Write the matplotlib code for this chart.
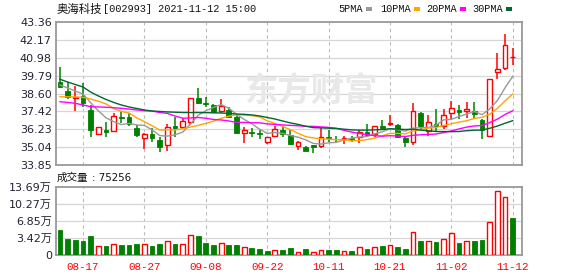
import matplotlib
matplotlib.use('Agg')
import matplotlib.pyplot as plt
import numpy as np

# ---------------- data ----------------
dates = ['08-12', '08-13', '08-16', '08-17', '08-18', '08-19', '08-20', '08-23', '08-24', '08-25',
         '08-26', '08-27', '08-30', '08-31', '09-01', '09-02', '09-03', '09-06', '09-07', '09-08',
         '09-09', '09-10', '09-13', '09-14', '09-15', '09-16', '09-17', '09-22', '09-23', '09-24',
         '09-27', '09-28', '09-29', '09-30', '10-08', '10-11', '10-12', '10-13', '10-14', '10-15',
         '10-18', '10-19', '10-20', '10-21', '10-22', '10-25', '10-26', '10-27', '10-28', '10-29',
         '11-01', '11-02', '11-03', '11-04', '11-05', '11-08', '11-09', '11-10', '11-11', '11-12']

opens = [39.39, 38.79, 38.29, 38.44, 37.51, 35.89, 36.18, 36.13, 37.06, 37.02,
         36.29, 35.63, 35.91, 35.51, 35.18, 36.44, 36.40, 36.73, 38.33, 37.95,
         37.84, 37.44, 37.51, 37.06, 35.96, 36.02, 35.98, 35.40, 35.78, 36.18,
         35.85, 35.11, 35.07, 35.18, 35.11, 35.72, 35.60, 35.60, 35.65, 35.73,
         36.07, 35.91, 36.44, 36.60, 36.51, 35.62, 35.40, 37.29, 36.11, 36.60,
         36.44, 37.33, 37.50, 37.42, 37.42, 36.82, 35.78, 40.03, 40.30, 41.00]
highs = [40.39, 39.39, 39.10, 39.28, 37.84, 36.40, 36.73, 37.33, 37.39, 37.29,
         36.51, 35.95, 36.29, 35.73, 36.58, 37.06, 36.96, 38.31, 38.99, 38.39,
         37.91, 38.22, 37.69, 37.17, 36.40, 36.29, 36.20, 35.72, 36.44, 36.36,
         36.18, 35.45, 35.10, 35.18, 36.29, 36.18, 35.75, 35.75, 35.80, 36.18,
         36.58, 36.44, 36.84, 37.17, 36.55, 35.69, 37.99, 37.40, 37.17, 37.55,
         37.55, 38.09, 37.82, 38.04, 38.04, 36.93, 39.60, 41.32, 42.58, 41.63]
lows = [39.00, 38.22, 37.46, 37.73, 35.69, 35.85, 35.69, 36.10, 36.66, 36.44,
        35.69, 34.89, 35.40, 34.74, 34.80, 35.69, 36.31, 36.51, 37.91, 37.73,
        37.29, 37.29, 36.96, 35.90, 35.33, 35.69, 35.60, 35.25, 35.75, 35.69,
        35.18, 34.85, 34.78, 34.67, 35.00, 35.40, 35.40, 35.25, 35.40, 35.33,
        35.78, 35.69, 36.18, 36.44, 35.65, 35.03, 35.18, 36.18, 35.78, 36.04,
        36.22, 36.93, 36.93, 36.98, 37.00, 35.60, 35.75, 39.59, 40.20, 40.48]
closes = [39.06, 38.39, 38.39, 37.95, 36.18, 36.36, 36.07, 37.11, 36.96, 36.58,
          35.85, 35.91, 35.63, 35.07, 36.40, 36.29, 36.80, 38.29, 38.00, 37.91,
          37.39, 37.77, 37.06, 36.00, 36.18, 35.96, 35.94, 35.69, 36.27, 35.91,
          35.25, 35.40, 34.80, 35.07, 35.69, 35.67, 35.55, 35.65, 35.60, 36.07,
          35.85, 36.44, 36.33, 36.65, 35.69, 35.40, 37.46, 36.44, 36.73, 36.44,
          37.19, 37.64, 37.40, 37.55, 37.24, 36.16, 39.55, 40.21, 41.81, 41.03]
# volume in 万 (10k shares)
volumes_wan = [5.10, 3.22, 2.95, 2.82, 3.83, 1.75, 1.81, 2.15, 2.01, 2.01,
               2.21, 2.15, 1.81, 2.21, 2.75, 2.21, 2.21, 4.03, 3.89, 2.42,
               2.01, 2.35, 2.01, 2.01, 1.55, 1.34, 1.21, 0.81, 1.00, 1.00,
               1.34, 0.67, 1.14, 0.67, 1.07, 1.00, 1.00, 0.74, 0.80, 1.55,
               1.30, 1.55, 1.81, 2.01, 1.61, 1.21, 4.56, 2.82, 2.75, 2.62,
               3.22, 4.36, 2.48, 2.82, 2.82, 3.02, 6.58, 12.88, 11.61, 7.5256]

# moving-average values for days whose window starts before the first visible day
ma5_head = [39.17, 38.97, 38.77, 38.57]
ma10_head = [38.39, 38.39, 38.37, 38.35, 38.24, 38.09, 37.91, 37.61, 37.41]
ma20_head = [38.06, 38.01, 37.95, 37.84, 37.73, 37.71, 37.69, 37.66, 37.62, 37.57,
             37.51, 37.46, 37.44, 37.34, 37.28, 37.11, 36.96, 36.98, 37.01]
ma30_head = [39.55, 39.37, 39.20, 39.04, 38.70, 38.44, 38.21, 38.01, 37.84, 37.71,
             37.61, 37.51, 37.44, 37.41, 37.38, 37.36, 37.34, 37.34, 37.34, 37.33,
             37.32, 37.31, 37.28, 37.24, 37.22, 37.18, 37.11, 37.01, 36.91]

tick_dates = ['08-17', '08-27', '09-08', '09-22', '10-11', '10-21', '11-02', '11-12']
price_ticks = [33.85, 35.04, 36.23, 37.42, 38.60, 39.79, 40.98, 42.17, 43.36]
vol_ticks_wan = [0, 3.42, 6.85, 10.27, 13.69]
last_volume = 75256
title_name = '奥海科技'
title_rest = '[002993] 2021-11-12 15:00'
ma_names = ['5PMA', '10PMA', '20PMA', '30PMA']

# ---------------- styles ----------------
RED = '#ff0000'
GREEN = '#008000'
MA_COLORS = ['#999999', '#ffa500', '#ff00ff', '#006633']
W, H = 578, 276

def fx(x):
    return x / W

def fy(y):
    return 1 - y / H

o = np.array(opens); h = np.array(highs); l = np.array(lows); c = np.array(closes)
n = len(c)
x = np.arange(n)

def moving(values, win, head):
    out = list(head)
    for i in range(len(head), len(values)):
        out.append(np.mean(values[i - win + 1:i + 1]))
    return np.array(out)

mas = [moving(c, 5, ma5_head), moving(c, 10, ma10_head),
       moving(c, 20, ma20_head), moving(c, 30, ma30_head)]

fig = plt.figure(figsize=(W / 100, H / 100), dpi=100)

# watermark (behind the axes content)
fig.text(fx(311), fy(92), '东方财富', fontsize=24, color='#e8e8e8',
         family=['Noto Sans CJK SC'], ha='center', va='center', fontweight='bold', zorder=0)

ax = fig.add_axes([fx(56), fy(165), fx(466), 143 / H])
axv = fig.add_axes([fx(56), fy(255), fx(466), 68 / H])

xlim = (-0.52, n + 0.2)
tick_idx = [dates.index(d) for d in tick_dates]

for a in (ax, axv):
    a.set_xlim(*xlim)
    for s in a.spines.values():
        s.set_color('#999999')
        s.set_linewidth(1.3)
    a.tick_params(length=0, labelsize=8, colors='#222233', pad=3)
    for t in tick_idx:
        a.axvline(t, color='#bbbbbb', lw=0.8, ls=(0, (3, 3)), zorder=0)
    a.patch.set_alpha(0)

# price panel
ax.set_ylim(price_ticks[0], price_ticks[-1])
ax.set_yticks(price_ticks)
ax.set_yticklabels(['%.2f' % v for v in price_ticks])
ax.set_xticks([])
for v in price_ticks[1:-1]:
    ax.axhline(v, color='#d6d6d6', lw=0.9, zorder=0)

up = c >= o
bw = 0.62
min_h = 0.025
body_bottom = np.minimum(o, c)
body_h = np.maximum(np.abs(c - o), min_h)
ax.vlines(x[up], l[up], h[up], color=RED, lw=1.1, zorder=2)
ax.vlines(x[~up], l[~up], h[~up], color=GREEN, lw=1.1, zorder=2)
ax.bar(x[up], body_h[up], bottom=body_bottom[up], width=bw, facecolor='white',
       edgecolor=RED, linewidth=1.0, zorder=3)
ax.bar(x[~up], body_h[~up], bottom=body_bottom[~up], width=bw, facecolor=GREEN,
       edgecolor=GREEN, linewidth=0.6, zorder=3)

for ma, col in zip(mas, MA_COLORS):
    ax.plot(x, ma, color=col, lw=1.0, zorder=4)

# volume panel
vols = np.array(volumes_wan) * 10000
prev = np.concatenate([[o[0]], c[:-1]])
vup = c > prev
vup[0] = up[0]
axv.set_ylim(0, vol_ticks_wan[-1] * 10000)
axv.set_yticks([v * 10000 for v in vol_ticks_wan])
axv.set_yticklabels(['0' if v == 0 else ('%.2f万' % v) for v in vol_ticks_wan],
                    family=['DejaVu Sans', 'Noto Sans CJK SC'])
for v in vol_ticks_wan[1:-1]:
    axv.axhline(v * 10000, color='#d6d6d6', lw=0.9, zorder=0)
axv.bar(x[vup], vols[vup], width=bw, facecolor='white', edgecolor=RED, linewidth=1.0, zorder=3)
axv.bar(x[~vup], vols[~vup], width=bw, facecolor=GREEN, edgecolor=GREEN, linewidth=0.6, zorder=3)
axv.set_xticks(tick_idx)
axv.set_xticklabels(tick_dates, color=RED, family=['Liberation Mono'], fontsize=7.8)
axv.tick_params(axis='x', pad=5, colors=RED)

# header texts
fig.text(fx(57), fy(9), title_name, fontsize=8.2, family=['Noto Sans CJK SC'],
         color='#111111', ha='left', va='center')
fig.text(fx(103), fy(9), title_rest, fontsize=7.4, family=['Liberation Mono'],
         color='#111111', ha='left', va='center')

lx = [338, 380, 426, 472]
for name, col, x0 in zip(ma_names, MA_COLORS, lx):
    fig.text(fx(x0), fy(9), name, fontsize=7.4, family=['Liberation Mono'],
             color='#111111', ha='left', va='center')
    sw = x0 + len(name) * 6.2 + 3
    fig.patches.append(plt.Rectangle((fx(sw), fy(10.5)), fx(6), 3 / H, transform=fig.transFigure,
                                     facecolor=col, edgecolor='none'))

fig.text(fx(57), fy(178), '成交量', fontsize=7.6, family=['Noto Sans CJK SC'],
         color='#111111', ha='left', va='center')
fig.text(fx(92), fy(178), ': %d' % last_volume, fontsize=7.4, family=['DejaVu Sans'],
         color='#111111', ha='left', va='center')

fig.savefig('out.png', dpi=100)
